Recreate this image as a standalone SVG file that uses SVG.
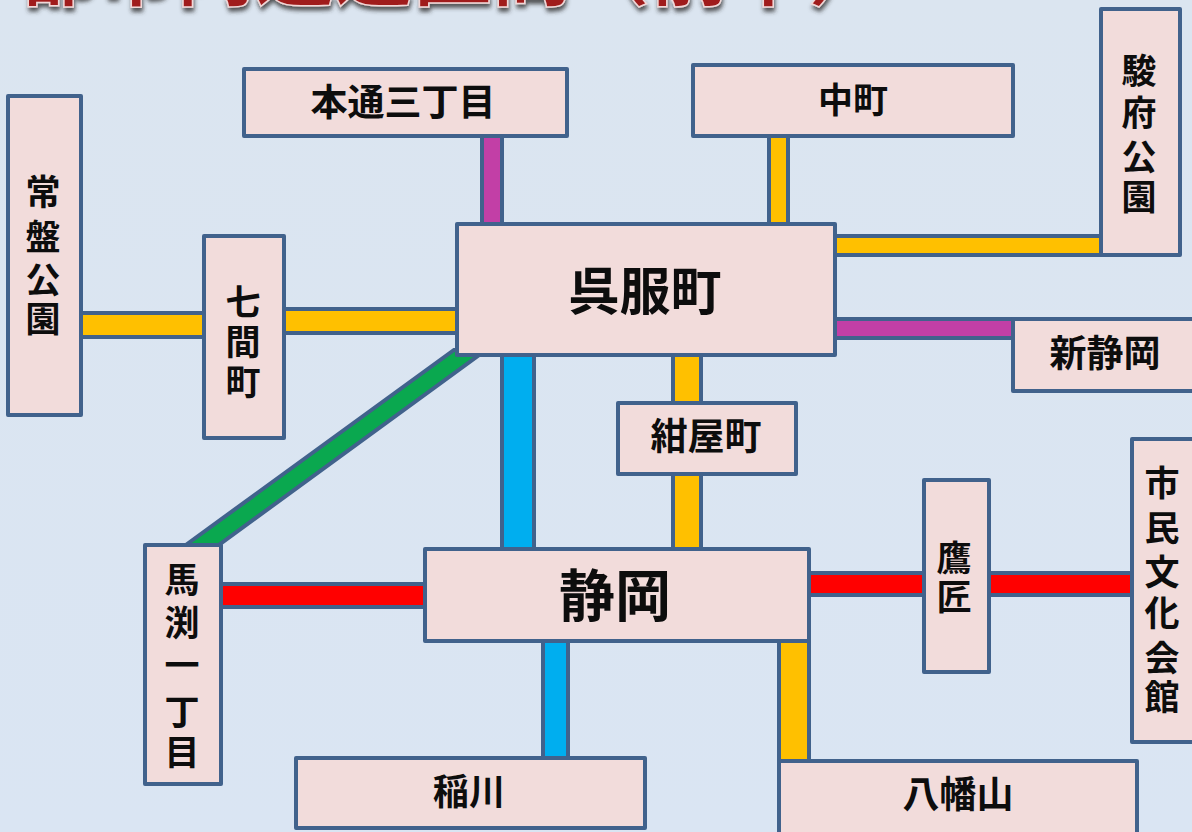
<svg xmlns="http://www.w3.org/2000/svg" width="1192" height="832" viewBox="0 0 1192 832">
<style>
.n{fill:#f2dcdb;stroke:#41628c;stroke-width:4;stroke-linejoin:round}
.c{stroke:#41628c;stroke-width:4;stroke-linejoin:miter}
.g{fill:#ffc000}.p{fill:#c23fa6}.b{fill:#00aeef}.r{fill:#ff0000}.e{fill:#0aa84f}
text{font-family:"Noto Sans CJK JP","Noto Sans",sans-serif;font-weight:700;fill:#0d0d0d;text-anchor:middle}
.s{font-size:35px}
.t{font-size:79px;fill:#a01c1c;stroke:#f0d8d8;stroke-width:1.5px;text-anchor:start}
</style>
<defs>
<linearGradient id="bg" x1="0" y1="0" x2="0" y2="1"><stop offset="0" stop-color="#dbe5f0"/><stop offset="1" stop-color="#dae5f3"/></linearGradient>
<filter id="sh" x="-5%" y="-20%" width="110%" height="150%"><feDropShadow dx="1" dy="4" stdDeviation="2" flood-color="#333" flood-opacity=".8"/></filter>
</defs>
<rect width="1192" height="832" fill="url(#bg)"/>
<text id="title" class="t" x="18" y="0" filter="url(#sh)">都市内通過区間&#xFF08;前半&#xFF09;</text>
<g id="connectors">
<rect class="c p" x="482" y="136" width="20" height="90"/>
<rect class="c g" x="769" y="136" width="19" height="90"/>
<rect class="c g" x="835" y="236" width="266" height="19"/>
<rect class="c p" x="835" y="319" width="178" height="19"/>
<rect class="c g" x="81" y="313" width="123" height="24"/>
<rect class="c g" x="284" y="309" width="173" height="24"/>
<polygon class="c e" points="183,547 454,350 486,350 216,547"/>
<rect class="c b" x="502" y="353" width="32" height="198"/>
<rect class="c g" x="673" y="353" width="28" height="52"/>
<rect class="c g" x="673" y="472" width="28" height="79"/>
<rect class="c b" x="543" y="639" width="25" height="121"/>
<rect class="c g" x="779" y="639" width="30" height="124"/>
<rect class="c r" x="221" y="584" width="204" height="23"/>
<rect class="c r" x="809" y="573" width="115" height="22"/>
<rect class="c r" x="989" y="573" width="143" height="22"/>
</g>
<g id="n-surugakoen"><rect class="n" x="1101" y="9" width="79" height="246"/><text class="s" x="1139 1139 1139 1139" y="84 126 170 210">駿府公園</text></g>
<g id="n-nakamachi"><rect class="n" x="693" y="65" width="320" height="71"/><text class="s" x="853" y="113">中町</text></g>
<g id="n-hondori"><rect class="n" x="244" y="69" width="323" height="67"/><text class="s" style="font-size:37px" x="403" y="116">本通三丁目</text></g>
<g id="n-tokiwa"><rect class="n" x="8" y="96" width="73" height="319"/><text class="s" x="43 43 43 43" y="205 250 293 332">常盤公園</text></g>
<g id="n-shichimachi"><rect class="n" x="204" y="236" width="80" height="202"/><text class="s" x="243 243 243" y="315 355 395">七間町</text></g>
<g id="n-gofukucho"><rect class="n" x="457" y="224" width="378" height="131"/><text style="font-size:51px" x="645" y="310">呉服町</text></g>
<g id="n-shinshizuoka"><rect class="n" x="1013" y="319" width="185" height="72"/><text class="s" style="font-size:37px" x="1105" y="367">新静岡</text></g>
<g id="n-konya"><rect class="n" x="618" y="403" width="178" height="71"/><text class="s" style="font-size:37px" x="706" y="450">紺屋町</text></g>
<g id="n-takajo"><rect class="n" x="924" y="480" width="65" height="192"/><text class="s" x="954 954" y="571 610">鷹匠</text></g>
<g id="n-shimin"><rect class="n" x="1132" y="439" width="70" height="303"/><text class="s" x="1162 1162 1162 1162 1162 1162" y="496 541 585 626 671 710">市民文化会館</text></g>
<g id="n-shizuoka"><rect class="n" x="425" y="549" width="384" height="92"/><text style="font-size:56px" x="615" y="616">静岡</text></g>
<g id="n-mabuchi"><rect class="n" x="145" y="545" width="76" height="239"/><text class="s" x="182 182 182 182 182" y="593 636 678 725 765">馬渕一丁目</text></g>
<g id="n-inagawa"><rect class="n" x="296" y="758" width="349" height="70"/><text class="s" style="font-size:36px" x="469" y="805">稲川</text></g>
<g id="n-yawatayama"><rect class="n" x="779" y="761" width="358" height="75"/><text class="s" style="font-size:37px" x="958" y="808">八幡山</text></g>
</svg>
